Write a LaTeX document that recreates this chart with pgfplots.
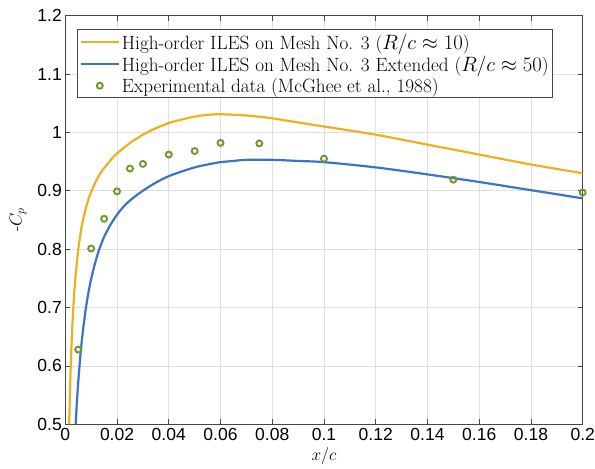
\documentclass[border=0pt]{standalone}
\usepackage{pgfplots}
\pgfplotsset{compat=1.18}
\usepackage{fontspec}
\newfontfamily\ticksans{Liberation Sans}

\definecolor{ilesyellow}{RGB}{237,177,32}
\definecolor{ilesblue}{RGB}{60,116,196}
\definecolor{expgreen}{RGB}{108,154,42}
\definecolor{axisgray}{RGB}{70,70,70}

\pgfplotsset{
  lineleg/.style={legend image code/.code={\draw[##1] (0pt,0pt) -- (38pt,0pt);}},
  markleg/.style={legend image code/.code={\draw[##1] plot coordinates {(19pt,0pt)};}},
}

\begin{document}
\begin{tikzpicture}
\begin{axis}[
  name=cp,
  scale only axis,
  width=517.4pt, height=408.7pt,
  xmin=0, xmax=0.2, ymin=0.5, ymax=1.2,
  xtick={0,0.02,...,0.2001},
  ytick={0.5,0.6,...,1.2001},
  /pgf/number format/fixed,
  /pgf/number format/precision=2,
  /pgf/number format/assume math mode=true,
  tick label style={font=\fontsize{17.5}{19}\ticksans},
  scaled ticks=false,
  grid=major,
  major grid style={line width=0.8pt, black!12},
  axis line style={line width=0.9pt, axisgray},
  tick style={line width=0.8pt, axisgray},
  major tick length=5pt,
  tick align=inside,
  xtick pos=both, ytick pos=both,
  xlabel={$x/c$},
  ylabel={-$C_p$},
  ylabel shift=4pt,
  label style={font=\fontsize{18}{21}\selectfont},
  legend cell align=left,
  legend style={
    at={(rel axis cs:0.0232,0.9665)}, anchor=north west,
    draw=axisgray, line width=0.8pt, fill=white,
    font=\fontsize{19.2}{22}\selectfont,
    inner xsep=2pt, inner ysep=2pt,
    row sep=1pt,
  },
]
% ILES, original mesh
\addplot[ilesyellow, line width=2.2pt, smooth, lineleg]
  coordinates {
  (0.0015,0.500) (0.0020,0.585) (0.0025,0.646) (0.0030,0.692)
  (0.0035,0.728) (0.0040,0.756) (0.0050,0.799) (0.0060,0.830)
  (0.0070,0.853) (0.0080,0.871) (0.0090,0.886) (0.0100,0.898)
  (0.0120,0.918) (0.0140,0.933) (0.0160,0.944) (0.0180,0.955)
  (0.0200,0.964) (0.0230,0.975) (0.0260,0.985) (0.0300,0.996)
  (0.0350,1.007) (0.0400,1.016) (0.0450,1.022) (0.0500,1.027)
  (0.0550,1.030) (0.0600,1.031) (0.0700,1.029) (0.0800,1.024)
  (0.0900,1.017) (0.1000,1.010) (0.1200,0.996) (0.1400,0.979)
  (0.1600,0.962) (0.1800,0.945) (0.2000,0.930)
  };
\addlegendentry{High-order ILES on Mesh No. 3 ($R/c\approx 10$)}
% ILES, extended mesh
\addplot[ilesblue, line width=2.2pt, smooth, lineleg]
  coordinates {
  (0.0040,0.500) (0.0045,0.539) (0.0050,0.572) (0.0060,0.626)
  (0.0070,0.667) (0.0080,0.700) (0.0090,0.727) (0.0100,0.749)
  (0.0115,0.776) (0.0130,0.798) (0.0150,0.821) (0.0175,0.842)
  (0.0200,0.859) (0.0230,0.875) (0.0260,0.887) (0.0300,0.900)
  (0.0350,0.914) (0.0400,0.925) (0.0450,0.933) (0.0500,0.940)
  (0.0550,0.945) (0.0600,0.949) (0.0650,0.951) (0.0700,0.953)
  (0.0800,0.953) (0.0900,0.951) (0.1000,0.949) (0.1200,0.940)
  (0.1400,0.928) (0.1600,0.915) (0.1800,0.901) (0.2000,0.887)
  };
\addlegendentry{High-order ILES on Mesh No. 3 Extended ($R/c\approx 50$)}
% measurements
\addplot[only marks, mark=o, mark size=3pt,
  mark options={expgreen, line width=1.9pt}, markleg]
  coordinates {
  (0.005,0.628) (0.010,0.801) (0.015,0.852) (0.020,0.899)
  (0.025,0.938) (0.030,0.946) (0.040,0.962) (0.050,0.968)
  (0.060,0.982) (0.075,0.981) (0.100,0.955) (0.150,0.919)
  (0.200,0.897)
  };
\addlegendentry{Experimental data (McGhee et al., 1988)}
\end{axis}
\pgfresetboundingbox
\path[use as bounding box] ([shift={(-65.3pt,-44.7pt)}]cp.south west)
  rectangle ([shift={(12.3pt,15.6pt)}]cp.north east);
\end{tikzpicture}
\end{document}
